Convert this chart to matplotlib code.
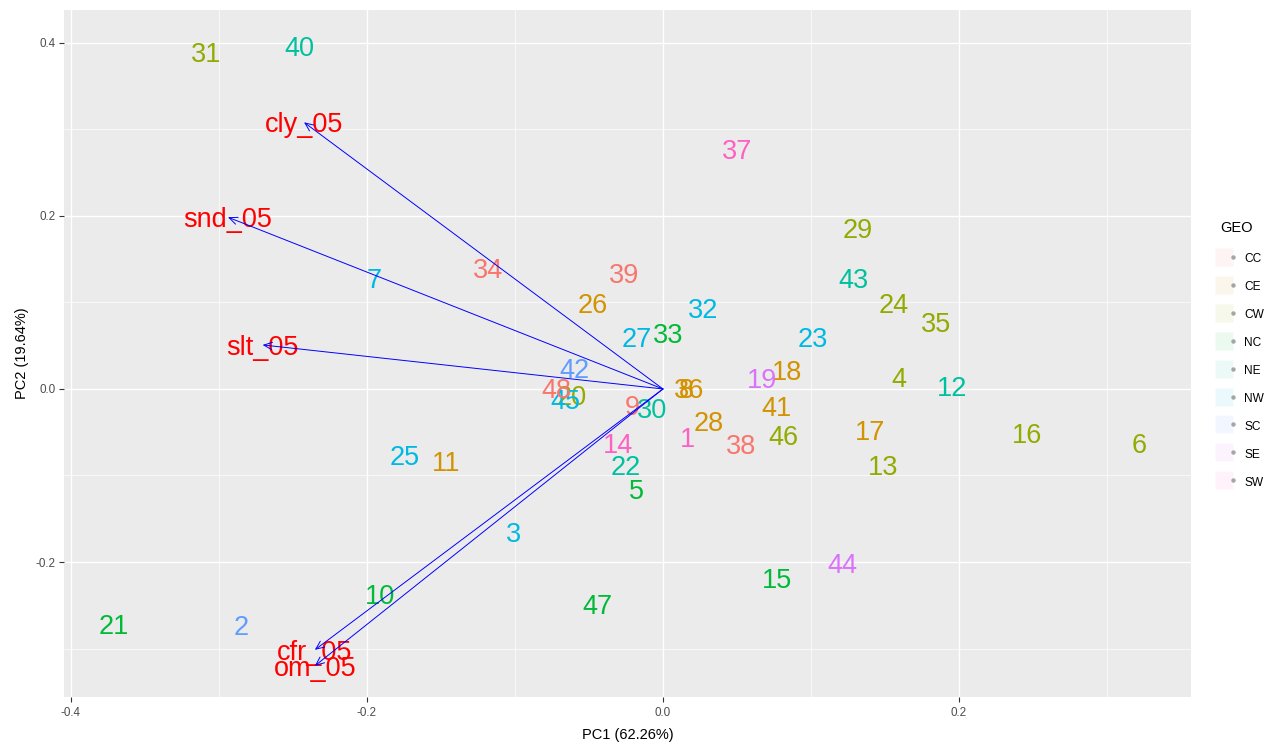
import matplotlib
matplotlib.use("Agg")
import matplotlib.pyplot as plt
from matplotlib.lines import Line2D
from matplotlib.legend_handler import HandlerTuple

plt.rcParams['font.family'] = ['Liberation Sans', 'DejaVu Sans']

# 样本得分 (PC1, PC2) 与所属地区
sample_ids = list(range(1, 49))
pc1 = [0.0169, -0.285, -0.101, 0.1595, -0.0182, 0.3216, -0.195, 0.0155, -0.021, -0.191,
       -0.1466, 0.1953, 0.1486, -0.0304, 0.077, 0.246, 0.1399, 0.0838, 0.0669, -0.0615,
       -0.371, -0.025, 0.1014, 0.156, -0.1743, -0.0473, -0.0176, 0.0311, 0.1318, -0.0074,
       -0.3086, 0.027, 0.0034, -0.1182, 0.1845, 0.0178, 0.05, 0.0527, -0.0264, -0.2454,
       0.0764, -0.0601, 0.129, 0.121, -0.0662, 0.0811, -0.0445, -0.0723]
pc2 = [-0.0555, -0.273, -0.165, 0.0139, -0.1156, -0.0624, 0.128, 0.001, -0.0185, -0.237,
       -0.0832, 0.0035, -0.0879, -0.0624, -0.2185, -0.0509, -0.0474, 0.022, 0.0127, -0.0069,
       -0.272, -0.0879, 0.0601, 0.0994, -0.0763, 0.0994, 0.0601, -0.037, 0.1861, -0.022,
       0.3896, 0.0936, 0.0647, 0.1399, 0.0775, 0.001, 0.2775, -0.0636, 0.1341, 0.3965,
       -0.0197, 0.0243, 0.1283, -0.2012, -0.0116, -0.0532, -0.248, 0.001]
geo = ['SW', 'SC', 'NW', 'CW', 'NC', 'CW', 'NW', 'CE', 'CC', 'NC',
       'CE', 'NE', 'CW', 'SW', 'NC', 'CW', 'CE', 'CE', 'SE', 'CW',
       'NC', 'NE', 'NW', 'CW', 'NW', 'CE', 'NW', 'CE', 'CW', 'NE',
       'CW', 'NW', 'NC', 'CC', 'CW', 'CE', 'SW', 'CC', 'CC', 'NE',
       'CE', 'SC', 'NE', 'SE', 'NW', 'CW', 'NC', 'CC']

# 变量载荷
var_names = ['cly_05', 'snd_05', 'slt_05', 'cfr_05', 'om_05']
load_pc1 = [-0.2425, -0.2939, -0.2705, -0.2352, -0.2352]
load_pc2 = [0.3082, 0.1985, 0.0509, -0.3015, -0.3200]

groups = ['CC', 'CE', 'CW', 'NC', 'NE', 'NW', 'SC', 'SE', 'SW']
colors = ['#F8766D', '#D39200', '#93AA00', '#00BA38', '#00C19F',
          '#00B9E3', '#619CFF', '#DB72FB', '#FF61C3']
color_map = dict(zip(groups, colors))

fig = plt.figure(figsize=(12.86, 7.47), dpi=100)
ax = fig.add_axes([64 / 1286, 1 - 697 / 747, (1191 - 64) / 1286, (697 - 10) / 747])
ax.set_facecolor('#EBEBEB')

# 样本编号
for sid, x, y, g in zip(sample_ids, pc1, pc2, geo):
    ax.text(x, y, str(sid), color=color_map[g], fontsize=19.5,
            ha='center', va='center_baseline', zorder=3)

# 载荷箭头
for name, x, y in zip(var_names, load_pc1, load_pc2):
    ax.text(x, y, name, color='#FF0000', fontsize=19.5,
            ha='center', va='center_baseline', zorder=3)
    ax.annotate('', xy=(x, y), xytext=(0, 0),
                arrowprops=dict(arrowstyle='->,head_length=0.5,head_width=0.22',
                                color='#0000FF', lw=0.7, shrinkA=0, shrinkB=0,
                                mutation_scale=12),
                zorder=4)

ax.set_xlim(-0.4047, 0.3568)
ax.set_ylim(-0.356, 0.438)
ax.set_xticks([-0.4, -0.2, 0.0, 0.2])
ax.set_xticklabels(['-0.4', '-0.2', '0.0', '0.2'])
ax.set_yticks([-0.2, 0.0, 0.2, 0.4])
ax.set_yticklabels(['-0.2', '0.0', '0.2', '0.4'])
ax.set_xticks([-0.3, -0.1, 0.1, 0.3], minor=True)
ax.set_yticks([-0.3, -0.1, 0.1, 0.3], minor=True)
ax.grid(which='major', color='white', lw=1.0, zorder=0)
ax.grid(which='minor', color='white', lw=0.5, zorder=0)
ax.set_axisbelow(True)
ax.tick_params(which='major', length=3.5, width=0.8, color='#333333',
               labelsize=8.4, labelcolor='#4D4D4D', pad=2.5)
ax.tick_params(axis='x', which='major', pad=4)
ax.tick_params(which='minor', length=0)
for s in ax.spines.values():
    s.set_visible(False)

ax.set_xlabel('PC1 (62.26%)', fontsize=10.5, labelpad=6)
ax.set_ylabel('PC2 (19.64%)', fontsize=10.5, labelpad=5)

# 图例
handles = []
for c in colors:
    bg = Line2D([], [], marker='s', linestyle='', markersize=12.5,
                markerfacecolor=c, markeredgecolor='none', alpha=0.08)
    dot = Line2D([], [], marker='o', linestyle='', markersize=3.2,
                 markerfacecolor='#8A8A8A', markeredgecolor='none', alpha=0.75)
    handles.append((bg, dot))
leg = fig.legend(handles, groups, handler_map={tuple: HandlerTuple(ndivide=None, pad=0)},
                 loc='upper left', bbox_to_anchor=(1215 / 1286, 1 - 216 / 747),
                 frameon=False, title='GEO', fontsize=8.6, title_fontsize=10.5,
                 handlelength=1.45, handleheight=1.45, labelspacing=1.15,
                 handletextpad=0.6, alignment='left', borderaxespad=0)
leg._legend_box.sep = 12

fig.savefig('out.png', dpi=100)
